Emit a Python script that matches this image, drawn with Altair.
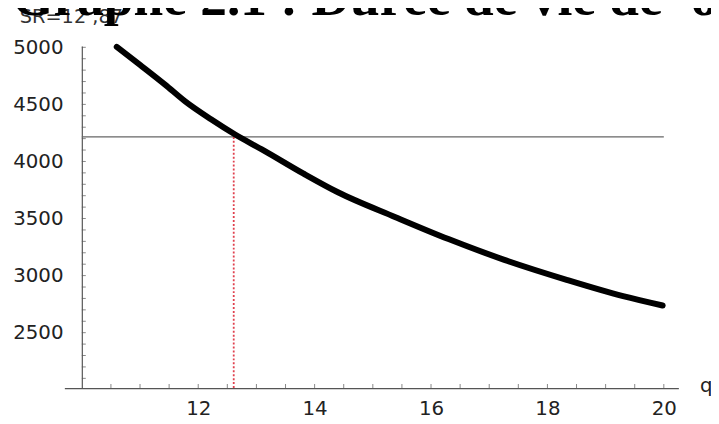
import altair as alt
import pandas as pd

# ---- data ----
q_vals = [10.60, 11.00, 11.43, 11.77, 12.22, 12.62, 13.13, 13.81, 14.40,
          15.39, 16.30, 17.26, 18.33, 19.30, 19.98]
duree_vals = [5004, 4846, 4673, 4528, 4369, 4240, 4095, 3893, 3730,
              3512, 3320, 3138, 2963, 2820, 2738]
x_label_values = [12, 14, 16, 18, 20]
y_label_values = [2500, 3000, 3500, 4000, 4500, 5000]
x_minor_ticks = [10.5 + 0.5 * i for i in range(20)]
y_minor_ticks = [2100 + 100 * i for i in range(30)]
seuil = 4216
sr = 12.61
title_text = "Graphe 2.1 : Durée de vie de 'o"
sr_text = "SR=12 ,87"
x_name = "q"

x_dom = [9.7, 20.25]
y_dom = [2015, 5012]
x_origin = 10

df = pd.DataFrame({"q": q_vals, "duree": duree_vals})
xs = alt.Scale(domain=x_dom, nice=False, zero=False)
ys = alt.Scale(domain=y_dom, nice=False, zero=False)

W, H = 621, 346
px_per_x = W / (x_dom[1] - x_dom[0])

axis_common = dict(ticks=False, tickSize=0, grid=False, domain=True,
                   domainColor="#555555", domainWidth=1.2,
                   labelFont="DejaVu Sans", labelFontSize=20,
                   labelColor="#222222", title=None, format="d",
                   labelFlush=False, labelOverlap=False)
xaxis = alt.Axis(values=x_label_values, labelPadding=11, **axis_common)
yaxis = alt.Axis(values=y_label_values, labelPadding=19,
                 offset=-(x_origin - x_dom[0]) * px_per_x, **axis_common)

curve = alt.Chart(df).mark_line(
    color="black", strokeWidth=6, strokeCap="round", strokeJoin="round",
    interpolate="monotone"
).encode(
    x=alt.X("q:Q", scale=xs, axis=xaxis),
    y=alt.Y("duree:Q", scale=ys, axis=yaxis),
)

yt = alt.Chart(pd.DataFrame({"v": y_minor_ticks})).mark_tick(
    orient="horizontal", size=4, thickness=1, color="#555555", xOffset=2
).encode(y=alt.Y("v:Q", scale=ys, axis=yaxis),
         x=alt.XDatum(x_origin, scale=xs, axis=xaxis))

xt = alt.Chart(pd.DataFrame({"v": x_minor_ticks})).mark_tick(
    orient="vertical", size=4, thickness=1, color="#555555", yOffset=-2
).encode(x=alt.X("v:Q", scale=xs, axis=xaxis),
         y=alt.YDatum(y_dom[0], scale=ys, axis=yaxis))

hline = alt.Chart(pd.DataFrame({"a": [0]})).mark_rule(
    color="#666666", strokeWidth=1.3
).encode(x=alt.XDatum(x_origin, scale=xs, axis=xaxis), x2=alt.datum(20),
         y=alt.YDatum(seuil, scale=ys, axis=yaxis))

vline = alt.Chart(pd.DataFrame({"a": [0]})).mark_rule(
    color="#e0404e", strokeWidth=1.8, strokeDash=[2, 2]
).encode(x=alt.XDatum(sr, scale=xs, axis=xaxis),
         y=alt.YDatum(y_dom[0], scale=ys, axis=yaxis), y2=alt.datum(seuil))

srlab = alt.Chart(pd.DataFrame({"t": [sr_text]})).mark_text(
    align="left", baseline="alphabetic", font="DejaVu Sans",
    fontSize=19.5, color="#333333"
).encode(text="t:N", x=alt.value(-45), y=alt.value(-23))

title = alt.Chart(pd.DataFrame({"t": [title_text]})).mark_text(
    align="left", baseline="alphabetic", font="Liberation Serif",
    fontWeight="bold", fontSize=54, color="black"
).encode(text="t:N", x=alt.value(-53), y=alt.value(-31))

qlab = alt.Chart(pd.DataFrame({"t": [x_name]})).mark_text(
    align="left", baseline="alphabetic", font="DejaVu Sans",
    fontSize=20, color="#222222"
).encode(text="t:N", x=alt.value(643), y=alt.value(350))

chart = alt.layer(hline, vline, curve, yt, xt, srlab, title, qlab).properties(
    width=W, height=H,
    autosize=alt.AutoSizeParams(type="none"),
    padding={"left": 57, "top": 36, "right": 33, "bottom": 34},
    background="white",
).configure_view(stroke=None)

chart.save("out.html", embed_options={"renderer": "svg", "actions": False})
